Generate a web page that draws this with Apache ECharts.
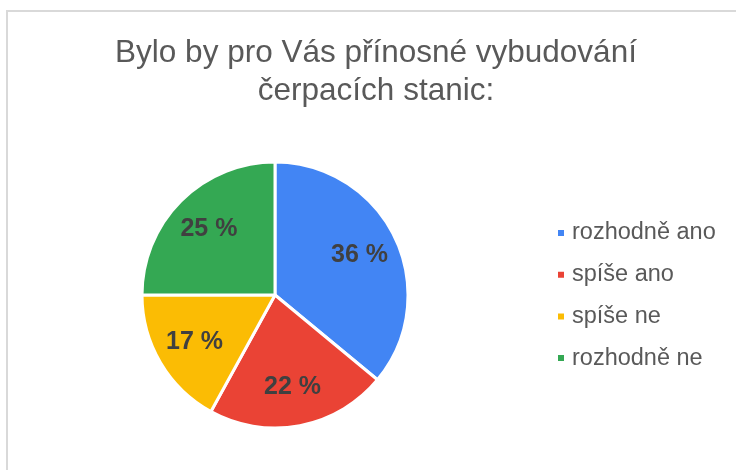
<!DOCTYPE html>
<html>
<head>
<meta charset="utf-8">
<script src="https://cdn.jsdelivr.net/npm/echarts@6/dist/echarts.min.js"></script>
<style>
  html, body { margin: 0; padding: 0; background: #fff; }
  #main { width: 736px; height: 470px; }
</style>
</head>
<body>
<div id="main"></div>
<script>
var categories = ['rozhodně ano', 'spíše ano', 'spíše ne', 'rozhodně ne'];
var values = [36, 22, 17, 25];
var colors = ['#4285f4', '#ea4335', '#fbbc04', '#34a853'];

var chartDom = document.getElementById('main');
var myChart = echarts.init(chartDom);
var option;

var pieData = categories.map(function (name, i) {
    return { name: name, value: values[i], itemStyle: { color: colors[i] } };
});

option = {
    textStyle: { fontFamily: 'Liberation Sans, Arial, sans-serif' },
    title: {
        text: 'Bylo by pro Vás přínosné vybudování\nčerpacích stanic:',
        left: 371,
        top: 29,
        textAlign: 'center',
        textStyle: {
            fontSize: 31.5,
            fontWeight: 'normal',
            color: '#595959',
            lineHeight: 38
        }
    },
    graphic: [
        {
            type: 'rect',
            shape: { x: 7, y: 11, width: 800, height: 600 },
            style: { fill: 'none', stroke: '#d9d9d9', lineWidth: 2 },
            silent: true
        }
    ],
    legend: {
        orient: 'vertical',
        left: 551,
        top: 216,
        itemWidth: 8,
        itemHeight: 8,
        itemGap: 17.7,
        icon: 'rect',
        data: categories,
        textStyle: {
            fontSize: 23.5,
            color: '#595959',
            padding: [0, 0, 0, 2]
        }
    },
    series: [
        {
            type: 'pie',
            center: [275, 295],
            radius: 133,
            startAngle: 90,
            label: { show: false },
            labelLine: { show: false },
            itemStyle: { borderColor: '#fff', borderWidth: 3 },
            emphasis: { disabled: true },
            data: pieData
        },
        {
            // transparent ring only used to place the percentage labels
            type: 'pie',
            center: [275, 295],
            radius: [48, 133],
            startAngle: 90,
            silent: true,
            legendHoverLink: false,
            itemStyle: { color: 'rgba(0,0,0,0)' },
            label: {
                show: true,
                position: 'inside',
                formatter: '{c} %',
                fontSize: 25,
                fontWeight: 'bold',
                color: '#404040'
            },
            labelLine: { show: false },
            emphasis: { disabled: true },
            data: categories.map(function (name, i) {
                return { name: name, value: values[i] };
            })
        }
    ]
};

option && myChart.setOption(option);
</script>
</body>
</html>
